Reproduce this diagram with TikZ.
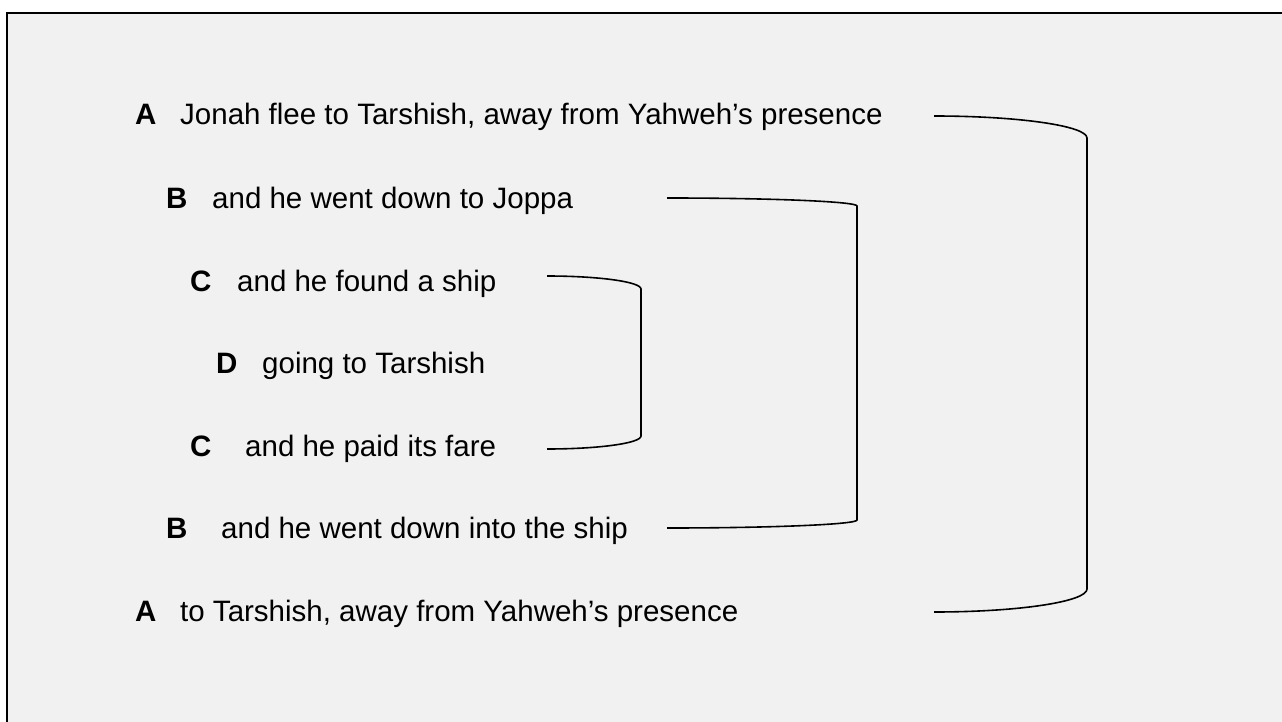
\documentclass[tikz,border=0pt]{standalone}
\usepackage{fontspec}
\setmainfont{Liberation Sans}
\definecolor{bggray}{HTML}{F1F1F1}
\begin{document}
\begin{tikzpicture}[x=1pt,y=-1pt,
  lbl/.style={anchor=base west,inner sep=0pt,font=\fontsize{29.5}{32}\selectfont\bfseries},
  txt/.style={anchor=base west,inner sep=0pt,font=\fontsize{29.5}{32}\selectfont},
  brk/.style={line width=1.6pt,black}]
\useasboundingbox (0,0) rectangle (1282,722);
\fill[white] (0,0) rectangle (1282,722);
\begin{scope}
\clip (0,0) rectangle (1282,722);
\draw[line width=2.6pt,fill=bggray] (7,13) rectangle (1300,740);
\end{scope}
% letters
\node[lbl] (la1) at (135,125) {A};
\node[lbl] (lb1) at (166,208) {B};
\node[lbl] (lc1) at (190,291) {C};
\node[lbl] (ld)  at (216,373) {D};
\node[lbl] (lc2) at (190,456) {C};
\node[lbl] (lb2) at (166,538) {B};
\node[lbl] (la2) at (135,621) {A};
% texts
\node[txt] (ta1) at (180,125) {Jonah flee to Tarshish, away from Yahweh’s presence};
\node[txt] (tb1) at (212,208) {and he went down to Joppa};
\node[txt] (tc1) at (237,291) {and he found a ship};
\node[txt] (td)  at (262,373) {going to Tarshish};
\node[txt] (tc2) at (245,456) {and he paid its fare};
\node[txt] (tb2) at (221,538) {and he went down into the ship};
\node[txt] (ta2) at (180,621) {to Tarshish, away from Yahweh’s presence};
% bracket ends
\coordinate (a1) at (934,116);
\coordinate (a2) at (934,612);
\coordinate (b1) at (667,198);
\coordinate (b2) at (667,528);
\coordinate (c1) at (547,276);
\coordinate (c2) at (547,449);
% brackets
\draw[brk] (a1) arc[start angle=90,end angle=0,x radius=153,y radius=-22]
  -- ++(0,451) arc[start angle=0,end angle=-90,x radius=153,y radius=-23] -- (a2);
\draw[brk] (b1) arc[start angle=90,end angle=0,x radius=190,y radius=-8]
  -- ++(0,314) arc[start angle=0,end angle=-90,x radius=190,y radius=-8] -- (b2);
\draw[brk] (c1) arc[start angle=90,end angle=0,x radius=94,y radius=-13]
  -- ++(0,147) arc[start angle=0,end angle=-90,x radius=94,y radius=-13] -- (c2);
\end{tikzpicture}
\end{document}
